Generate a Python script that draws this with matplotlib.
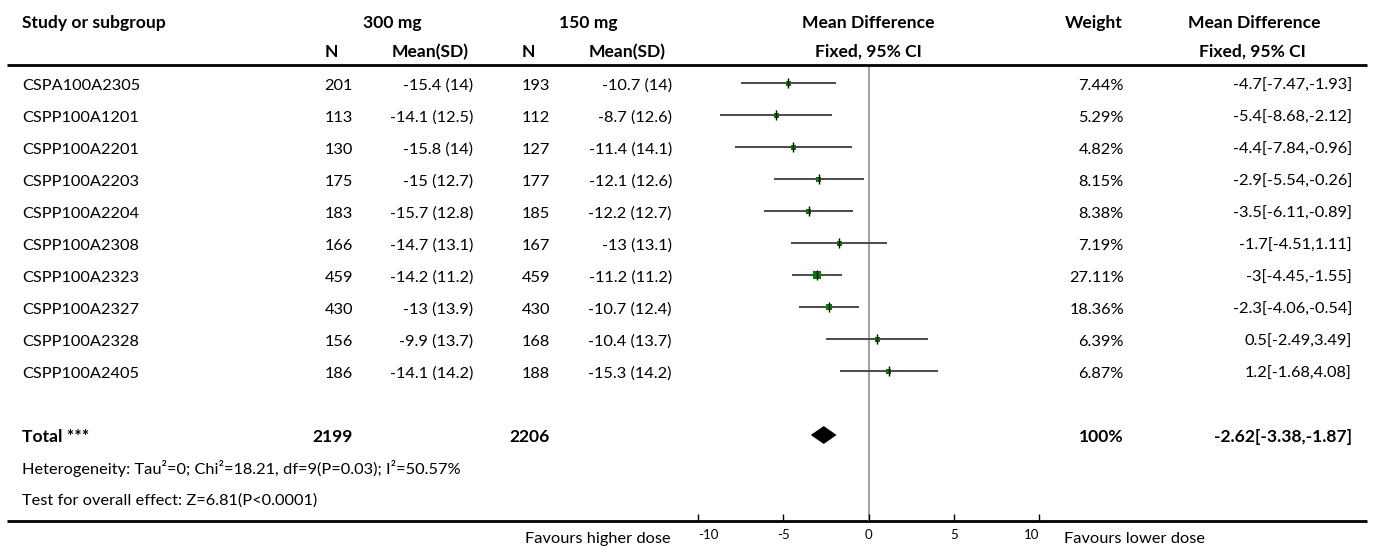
import matplotlib
matplotlib.use('Agg')
import matplotlib.pyplot as plt
import numpy as np

plt.rcParams['font.family'] = ['Lato', 'DejaVu Sans']

# study-level data: 300 mg vs 150 mg
studies = ["CSPA100A2305", "CSPP100A1201", "CSPP100A2201", "CSPP100A2203", "CSPP100A2204",
           "CSPP100A2308", "CSPP100A2323", "CSPP100A2327", "CSPP100A2328", "CSPP100A2405"]
n_300 = [201, 113, 130, 175, 183, 166, 459, 430, 156, 186]
mean_300 = [-15.4, -14.1, -15.8, -15, -15.7, -14.7, -14.2, -13, -9.9, -14.1]
sd_300 = [14, 12.5, 14, 12.7, 12.8, 13.1, 11.2, 13.9, 13.7, 14.2]
n_150 = [193, 112, 127, 177, 185, 167, 459, 430, 168, 188]
mean_150 = [-10.7, -8.7, -11.4, -12.1, -12.2, -13, -11.2, -10.7, -10.4, -15.3]
sd_150 = [14, 12.6, 14.1, 12.6, 12.7, 13.1, 11.2, 12.4, 13.7, 14.2]
weights = [7.44, 5.29, 4.82, 8.15, 8.38, 7.19, 27.11, 18.36, 6.39, 6.87]
md = [-4.7, -5.4, -4.4, -2.9, -3.5, -1.7, -3, -2.3, 0.5, 1.2]
ci_low = [-7.47, -8.68, -7.84, -5.54, -6.11, -4.51, -4.45, -4.06, -2.49, -1.68]
ci_high = [-1.93, -2.12, -0.96, -0.26, -0.89, 1.11, -1.55, -0.54, 3.49, 4.08]

total_n_300 = 2199
total_n_150 = 2206
total_md = -2.62
total_low = -3.38
total_high = -1.87
heterogeneity = "Heterogeneity: Tau²=0; Chi²=18.21, df=9(P=0.03); I²=50.57%"
overall = "Test for overall effect: Z=6.81(P<0.0001)"
xticks = [-10, -5, 0, 5, 10]

W, H = 1375, 549
FS = 11.8
FS_BOLD = 12.6
fig = plt.figure(figsize=(W / 100, H / 100), dpi=100)

# background axes in pixel units for the table text
bg = fig.add_axes([0, 0, 1, 1])
bg.set_xlim(0, W)
bg.set_ylim(H, 0)
bg.set_axis_off()

ROW0, STEP = 83, 32          # row centres (px)
AX_TOP, AX_BOT = 67, 521
X_LO, X_HI = 697.7, 1039.3   # pixel position of -10 and 10


def row_y(i):
    return ROW0 + STEP * i


def txt(x, y, s, ha='left', bold=False):
    bg.text(x, y, s, ha=ha, va='baseline', fontsize=FS_BOLD if bold else FS,
            fontweight='bold' if bold else 'normal', color='black')


# header
txt(22, 28, "Study or subgroup", bold=True)
txt(392, 28, "300 mg", ha='center', bold=True)
txt(588, 28, "150 mg", ha='center', bold=True)
txt(868, 28, "Mean Difference", ha='center', bold=True)
txt(1123, 28, "Weight", ha='right', bold=True)
txt(1254, 28, "Mean Difference", ha='center', bold=True)
txt(331, 57, "N", ha='center', bold=True)
txt(469, 57, "Mean(SD)", ha='right', bold=True)
txt(528, 57, "N", ha='center', bold=True)
txt(666, 57, "Mean(SD)", ha='right', bold=True)
txt(868, 57, "Fixed, 95% CI", ha='center', bold=True)
txt(1252, 57, "Fixed, 95% CI", ha='center', bold=True)
bg.plot([7, 1367], [64.5, 64.5], color='black', lw=2, solid_capstyle='butt')

# study rows
for i, name in enumerate(studies):
    yb = row_y(i) + 7
    txt(22, yb, name)
    txt(353, yb, str(n_300[i]), ha='right')
    txt(473, yb, f"{mean_300[i]:g} ({sd_300[i]:g})", ha='right')
    txt(550, yb, str(n_150[i]), ha='right')
    txt(672, yb, f"{mean_150[i]:g} ({sd_150[i]:g})", ha='right')
    txt(1124, yb, f"{weights[i]:.2f}%", ha='right')
    txt(1352, yb, f"{md[i]:g}[{ci_low[i]:g},{ci_high[i]:g}]", ha='right')

# totals
total_row = 11
yb = row_y(total_row) + 7
txt(22, yb, "Total ***", bold=True)
txt(353, yb, str(total_n_300), ha='right', bold=True)
txt(550, yb, str(total_n_150), ha='right', bold=True)
txt(1124, yb, "100%", ha='right', bold=True)
txt(1352, yb, f"{total_md:g}[{total_low:g},{total_high:g}]", ha='right', bold=True)
txt(22, 474, heterogeneity)
txt(22, 505, overall)

bg.plot([7, 1367], [AX_BOT, AX_BOT], color='black', lw=2, solid_capstyle='butt')
txt(671, 543, "Favours higher dose", ha='right')
txt(1064, 543, "Favours lower dose")

# forest plot axes
ax = fig.add_axes([X_LO / W, 1 - AX_BOT / H, (X_HI - X_LO) / W, (AX_BOT - AX_TOP) / H])
ax.patch.set_alpha(0)
ax.set_xlim(-10, 10)
ax.set_ylim((AX_BOT - ROW0) / STEP, (AX_TOP - ROW0) / STEP)
for s in ax.spines.values():
    s.set_visible(False)
ax.set_yticks([])
ax.set_xticks(xticks)
ax.set_xticklabels([str(t) for t in xticks])
ax.tick_params(axis='x', direction='in', length=5, width=1, pad=6, labelsize=9.5)
labels = ax.get_xticklabels()
labels[0].set_ha('left')
labels[-1].set_ha('right')

ax.axvline(0, color='#999999', lw=1.3, zorder=1)

rows = np.arange(len(studies))
ax.hlines(rows, ci_low, ci_high, color='#4a4a4a', lw=1.4, zorder=2, clip_on=False)
# square side grows with weight, with a floor so small studies stay visible
side_px = np.maximum(5, 8.3 * np.array(weights) / max(weights))
ax.scatter(md, rows, marker='s', s=(side_px * 0.72) ** 2, color='green',
           linewidths=0, zorder=3, clip_on=False)
ax.plot(md, rows, ls='none', marker='|', ms=6.5, mew=1.0, color='black', zorder=4)

half_h = 0.28
ax.fill([total_low, total_md, total_high, total_md],
        [total_row, total_row - half_h, total_row, total_row + half_h],
        color='black', lw=0, zorder=3)

fig.savefig('out.png', dpi=100)
